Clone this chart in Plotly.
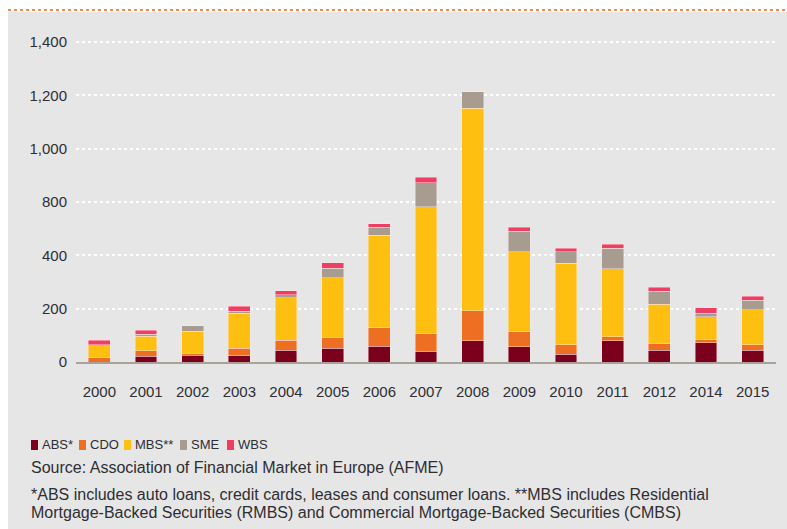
import plotly.graph_objects as go

# European securitisation issuance by collateral type
years = ["2000", "2001", "2002", "2003", "2004", "2005", "2006", "2007",
         "2008", "2009", "2010", "2011", "2012", "2014", "2015"]
abs_vals = [0, 22, 25, 24, 44, 51, 59, 38, 79, 58, 30, 79, 44, 73, 44]
cdo_vals = [16, 21, 6, 27, 38, 41, 70, 70, 113, 55, 35, 15, 27, 13, 21]
mbs_vals = [49, 54, 84, 132, 159, 224, 347, 474, 759, 300, 306, 256, 146, 84, 131]
sme_vals = [0, 7, 21, 7, 12, 35, 29, 90, 62, 78, 43, 77, 49, 13, 36]
wbs_vals = [16, 16, 0, 20, 15, 21, 14, 21, 0, 14, 13, 15, 15, 20, 14]

series_names = ["ABS*", "CDO", "MBS**", "SME", "WBS"]
series_vals = [abs_vals, cdo_vals, mbs_vals, sme_vals, wbs_vals]
series_colors = ["#7b001c", "#ef6f22", "#ffbf10", "#a89b90", "#ef3e64"]

y_tickvals = [0, 200, 400, 600, 800, 1000, 1200]
y_ticktext = ["0", "200", "400", "800", "1,000", "1,200", "1,400"]

source_text = "Source: Association of Financial Market in Europe (AFME)"
note_lines = [
    "*ABS includes auto loans, credit cards, leases and consumer loans. "
    "**MBS includes Residential",
    "Mortgage-Backed Securities (RMBS) and Commercial Mortgage-Backed "
    "Securities (CMBS)",
]

W, H = 787, 529
ML, MR, MT, MB = 76, 11, 40, 167
PW, PH = W - ML - MR, H - MT - MB
FONT = "Liberation Sans, Arial, sans-serif"
TEXT = "#2e2e33"


def px(x):
    return (x - ML) / PW


def py(y):
    return (H - MB - y) / PH


fig = go.Figure()
for name, vals, col in zip(series_names, series_vals, series_colors):
    fig.add_trace(go.Bar(
        x=years, y=vals, name=name,
        marker=dict(color=col, line=dict(color="rgba(255,230,230,0.55)", width=0.8)),
        showlegend=False,
    ))

shapes = [
    # grey panel behind everything
    dict(type="rect", xref="paper", yref="paper", layer="below",
         x0=px(8), x1=px(W + 5), y0=py(H + 5), y1=py(12),
         fillcolor="#e6e6e6", line=dict(width=0)),
    # dotted orange rule at the top
    dict(type="line", xref="paper", yref="paper",
         x0=px(8), x1=px(W), y0=py(10), y1=py(10),
         line=dict(color="#f58a4c", width=2, dash="dot")),
]

annotations = []
# legend row
legend_marker_x = [31, 79, 124, 180, 227]
legend_y = 445
for name, col, mx in zip(series_names, series_colors, legend_marker_x):
    shapes.append(dict(type="rect", xref="paper", yref="paper",
                       x0=px(mx), x1=px(mx + 7),
                       y0=py(legend_y + 5), y1=py(legend_y - 5),
                       fillcolor=col, line=dict(width=0)))
    annotations.append(dict(xref="paper", yref="paper", x=px(mx + 9), y=py(legend_y),
                            text=name, showarrow=False, xanchor="left", yanchor="middle",
                            font=dict(family=FONT, size=13, color=TEXT)))

annotations.append(dict(xref="paper", yref="paper", x=px(29), y=py(467),
                        text=source_text, showarrow=False, xanchor="left",
                        yanchor="middle", font=dict(family=FONT, size=16, color=TEXT)))
for i, line in enumerate(note_lines):
    annotations.append(dict(xref="paper", yref="paper", x=px(29), y=py(494 + 18.5 * i),
                            text=line, showarrow=False, xanchor="left",
                            yanchor="middle", font=dict(family=FONT, size=16, color=TEXT)))

fig.update_layout(
    width=W, height=H,
    margin=dict(l=ML, r=MR, t=MT, b=MB, pad=0),
    barmode="stack", bargap=0.53,
    paper_bgcolor="white", plot_bgcolor="rgba(0,0,0,0)",
    font=dict(family=FONT, color=TEXT),
    shapes=shapes, annotations=annotations,
    xaxis=dict(type="category", showgrid=False, showline=True,
               linecolor="#aaa198", linewidth=2, ticks="",
               tickfont=dict(size=15, color=TEXT), ticklabelstandoff=15),
    yaxis=dict(range=[0, PH * 3.75], tickvals=y_tickvals, ticktext=y_ticktext,
               showgrid=True, gridcolor="white", gridwidth=1.5, griddash="dot",
               zeroline=False, showline=False, ticks="",
               tickfont=dict(size=15, color=TEXT), ticklabelstandoff=8),
)

fig.write_html("out.html")
